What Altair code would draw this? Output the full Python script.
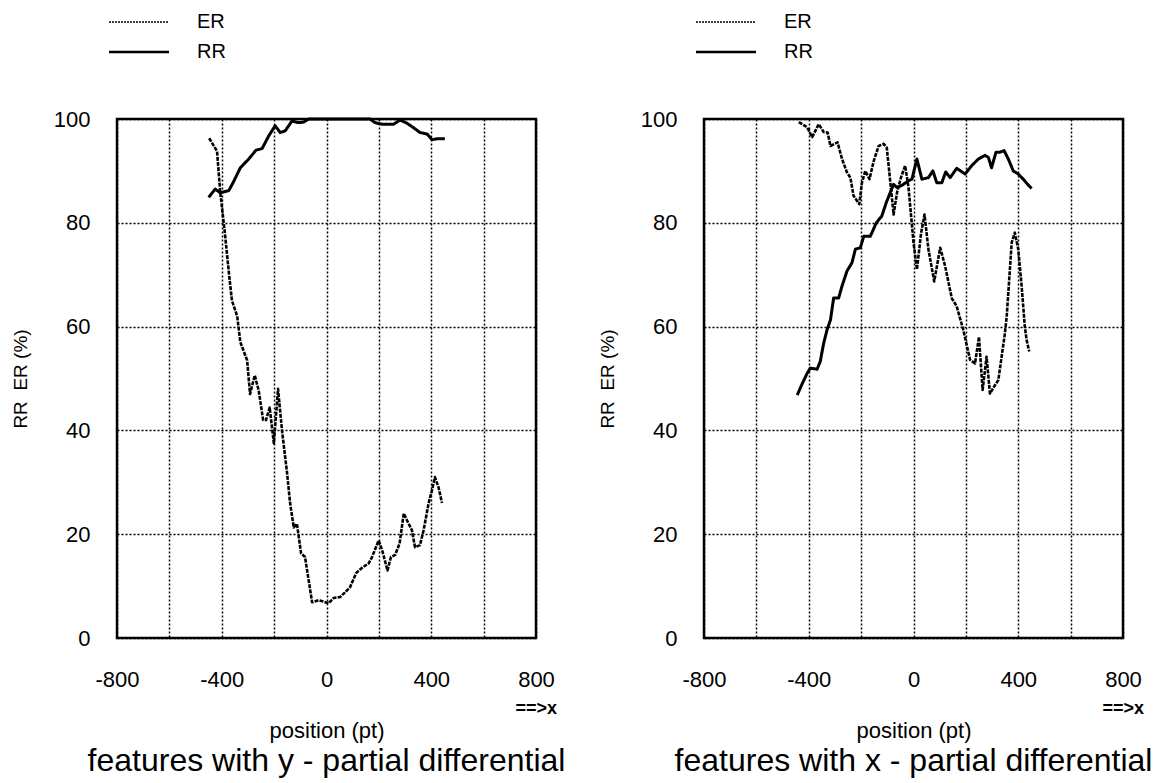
import altair as alt
import pandas as pd

# ---------------- data ----------------
series_names = ["ER", "RR"]

left_er_x = [-448, -418, -406, -388, -372, -361, -341, -329, -303, -292, -274, -259, -242, -231,
             -217, -201, -185, -170, -151, -139, -125, -113, -97, -82, -55, -30, 8, 27, 52, 71,
             90, 113, 135, 161, 174, 199, 212, 233, 246, 262, 279, 295, 311, 326, 338, 357, 371,
             390, 403, 414, 428, 441]
left_er_y = [96.3, 93.8, 86, 78, 70, 65, 62, 57, 53.5, 47, 50.6, 47.7, 42, 42, 44.4, 37.5, 48,
             40, 32, 26, 21.3, 22, 16.3, 15.6, 6.9, 7.3, 6.7, 7.7, 7.9, 8.8, 9.8, 12.5, 13.5,
             14.4, 15.6, 18.8, 17, 13, 15.6, 16, 18.2, 24, 22.3, 20.8, 17.5, 17.9, 20.8, 26,
             28.5, 31, 29, 26]

left_rr_x = [-450, -425, -406, -373, -354, -329, -297, -269, -246, -221, -196, -177, -158, -132,
             -106, -87, -68, 166, 185, 212, 256, 281, 307, 333, 357, 384, 403, 422, 452]
left_rr_y = [84.9, 86.5, 85.8, 86.2, 88, 90.6, 92.3, 94, 94.3, 96.7, 98.7, 97.4, 97.7, 99.6,
             99.3, 99.4, 100, 100, 99.3, 99, 99, 99.8, 99.2, 98.3, 97.4, 97.1, 96, 96.2, 96.2]

right_er_x = [-438, -406, -387, -362, -343, -328, -317, -290, -273, -254, -241, -229, -207, -197,
              -184, -168, -152, -133, -114, -102, -76, -63, -48, -32, -19, 0, 13, 29, 42, 57,
              79, 102, 121, 146, 165, 190, 216, 235, 250, 264, 279, 292, 311, 324, 349, 356,
              375, 387, 400, 413, 425, 432, 442]
right_er_y = [99.4, 98.4, 96.5, 99, 97.5, 97.4, 94.8, 95.5, 92.3, 89.7, 88.7, 85.2, 83.6, 87.7,
              90, 88.4, 91.9, 94.8, 95.2, 94.5, 81.6, 85.8, 88.7, 91, 86.8, 76.2, 71, 78, 81.6,
              74.9, 68.7, 75.2, 71.6, 65.5, 63.9, 59.4, 53.6, 52.9, 58, 47.8, 54.2, 47.1, 48.7,
              49.7, 58.7, 62, 76.2, 78.1, 74.9, 67.8, 60, 57.4, 55.2]

right_rr_x = [-444, -425, -406, -394, -368, -356, -343, -330, -317, -305, -286, -273, -254, -235,
              -222, -203, -190, -165, -142, -121, -104, -89, -76, -63, -45, -19, -6, 13, 32, 57,
              74, 89, 108, 123, 140, 165, 197, 222, 248, 273, 286, 298, 315, 330, 346, 362, 381,
              400, 419, 436, 451]
right_rr_y = [46.8, 49, 51, 52, 51.8, 53.3, 56.8, 59.4, 61.3, 65.5, 65.5, 67.8, 70.7, 72.3, 74.9,
              75.2, 77.4, 77.4, 80, 81.3, 83.9, 85.8, 87.4, 86.8, 87.2, 88.1, 88.4, 92.3, 88.4,
              88.7, 90, 87.7, 87.7, 89.8, 88.7, 90.5, 89.4, 91, 92.3, 93, 92.6, 90.6, 93.6, 93.6,
              93.9, 92.3, 90, 89.4, 88.4, 87.4, 86.6]

x_grid_values = [-800, -600, -400, -200, 0, 200, 400, 600, 800]
y_grid_values = [0, 20, 40, 60, 80, 100]

titles = ["features with y - partial differential", "features with x - partial differential"]
x_title = "position (pt)"
y_title = "RR\u00a0\u00a0ER (%)"
arrow_text = "==>x"

# ---------------- styling ----------------
FONT = "Liberation Sans"
W, H = 419, 519
DASH = {"ER": [4, 1.2], "RR": [1, 0]}
LINE_W = {"ER": 2.6, "RR": 3.0}
LEG_W = {"ER": 1.6, "RR": 2.4}
LEG_Y = {"ER": -97, "RR": -67}


def make_df(er_x, er_y, rr_x, rr_y):
    a = pd.DataFrame({"x": er_x, "y": er_y, "series": "ER"})
    b = pd.DataFrame({"x": rr_x, "y": rr_y, "series": "RR"})
    return pd.concat([a, b], ignore_index=True)


def panel(df, title):
    xenc = alt.X("x:Q",
                 scale=alt.Scale(domain=[-800, 800], nice=False, zero=False),
                 axis=alt.Axis(values=x_grid_values,
                               labelExpr="datum.value % 400 == 0 ? toString(datum.value) : ''",
                               title=x_title, ticks=False, domain=False,
                               labelFlush=False, labelOverlap=False,
                               labelPadding=31, titlePadding=30,
                               labelFontSize=22, titleFontSize=22,
                               titleFontWeight="normal"))
    yenc = alt.Y("y:Q",
                 scale=alt.Scale(domain=[0, 100], nice=False),
                 axis=alt.Axis(values=y_grid_values, title=y_title, ticks=False, domain=False,
                               labelFlush=False,
                               labelPadding=27, titlePadding=23,
                               labelFontSize=22, titleFontSize=19,
                               titleFontWeight="normal"))
    layers = []
    for s in series_names:
        layers.append(
            alt.Chart(df[df["series"] == s]).mark_line(
                color="black", strokeWidth=LINE_W[s], strokeDash=DASH[s],
                strokeJoin="round").encode(x=xenc, y=yenc)
        )
    # legend (drawn above the plot area)
    for s in series_names:
        ldf = pd.DataFrame({"series": [s]})
        layers.append(
            alt.Chart(ldf).mark_rule(color="black", strokeWidth=LEG_W[s],
                                     strokeDash=[2, 1] if s == "ER" else [1, 0]).encode(
                x=alt.value(-8), x2=alt.value(52), y=alt.value(LEG_Y[s]))
        )
        layers.append(
            alt.Chart(ldf).mark_text(align="left", baseline="middle", fontSize=20,
                                     font=FONT, color="black").encode(
                text="series:N", x=alt.value(80), y=alt.value(LEG_Y[s]))
        )
    arrow = alt.Chart(pd.DataFrame({"t": [arrow_text]})).mark_text(
        align="right", baseline="middle", fontSize=18, fontWeight="bold", font=FONT,
        color="black"
    ).encode(text="t:N", x=alt.value(W + 21), y=alt.value(H + 71))
    layers.append(arrow)
    return alt.layer(*layers).properties(
        width=W, height=H,
        title=alt.TitleParams(title, orient="bottom", anchor="middle", fontSize=32,
                              fontWeight="normal", font=FONT, offset=5, color="black"),
    )


left = panel(make_df(left_er_x, left_er_y, left_rr_x, left_rr_y), titles[0])
right = panel(make_df(right_er_x, right_er_y, right_rr_x, right_rr_y), titles[1])

chart = alt.hconcat(left, right, spacing=30).properties(
    padding={"left": 10, "top": 10, "right": 0, "bottom": 0}
).configure(
    font=FONT, background="white"
).configure_view(
    stroke="black", strokeWidth=2.5
).configure_axis(
    grid=True, gridColor="black", gridDash=[2, 2], gridWidth=1.5, gridOpacity=1,
    labelColor="black", titleColor="black", labelFont=FONT, titleFont=FONT
)

chart.save("out.html", embed_options={"renderer": "svg", "actions": False})
